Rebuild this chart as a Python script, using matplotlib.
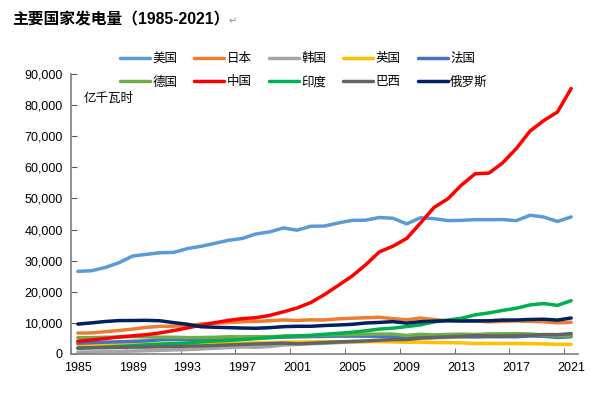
import numpy as np
import matplotlib
matplotlib.use('Agg')
from matplotlib import pyplot as plt
from matplotlib.ticker import FuncFormatter, MultipleLocator

plt.rcParams['font.family'] = ['Liberation Sans', 'Noto Sans CJK SC', 'DejaVu Sans']

years = list(range(1985, 2022))

# 亿千瓦时
usa = [26570, 26760, 27810, 29350, 31490, 32030, 32550, 32660, 33880, 34630,
       35580, 36550, 37140, 38590, 39250, 40510, 39800, 41050, 41130, 42110,
       42940, 43010, 43880, 43630, 41820, 43790, 43490, 42880, 42960, 43190,
       43170, 43220, 42860, 44610, 44010, 42600, 44060]
japan = [6720, 6770, 7180, 7540, 8000, 8570, 8880, 8950, 9060, 9640,
         9900, 10100, 10370, 10470, 10690, 10950, 10760, 10990, 10930, 11300,
         11500, 11640, 11800, 11360, 11000, 11560, 11040, 10690, 10870, 10610,
         10340, 10500, 10610, 10510, 10350, 10030, 10200]
korea = [580, 650, 730, 850, 940, 1050, 1180, 1310, 1440, 1650,
         1850, 2050, 2250, 2150, 2400, 2900, 3100, 3290, 3450, 3670,
         3880, 4030, 4270, 4430, 4520, 4970, 5230, 5340, 5370, 5400,
         5470, 5610, 5760, 5940, 5890, 5760, 5990]
uk = [2980, 3010, 3010, 3060, 3130, 3200, 3230, 3210, 3230, 3260,
      3340, 3470, 3450, 3620, 3680, 3770, 3850, 3870, 3980, 3940,
      3980, 3970, 3960, 3890, 3760, 3820, 3680, 3640, 3580, 3380,
      3390, 3390, 3380, 3330, 3250, 3130, 3080]
france = [3450, 3630, 3800, 3920, 4070, 4210, 4550, 4630, 4720, 4770,
          4940, 5130, 5050, 5100, 5240, 5410, 5500, 5590, 5670, 5740,
          5760, 5740, 5700, 5740, 5360, 5660, 5620, 5640, 5740, 5620,
          5710, 5560, 5540, 5820, 5700, 5320, 5560]
germany = [5230, 5250, 5380, 5460, 5600, 5500, 5400, 5380, 5270, 5290,
           5370, 5550, 5520, 5570, 5560, 5770, 5860, 5870, 6090, 6170,
           6230, 6370, 6400, 6400, 5960, 6330, 6130, 6300, 6380, 6270,
           6470, 6500, 6540, 6430, 6090, 5740, 5880]
china = [4107, 4495, 4973, 5452, 5848, 6212, 6775, 7539, 8395, 9281,
         10070, 10813, 11356, 11670, 12393, 13556, 14808, 16540, 19106, 22033,
         25003, 28657, 32816, 34669, 37147, 42072, 47130, 49876, 54316, 57945,
         58146, 61425, 66044, 71661, 75034, 77791, 85343]
india = [1830, 2020, 2220, 2430, 2680, 2930, 3160, 3360, 3570, 3890,
         4180, 4360, 4640, 4950, 5310, 5620, 5800, 6010, 6340, 6650,
         6970, 7450, 8010, 8310, 8810, 9370, 10320, 10910, 11490, 12590,
         13210, 14010, 14710, 15790, 16220, 15630, 17140]
brazil = [1930, 2020, 2030, 2150, 2210, 2230, 2340, 2410, 2520, 2600,
          2750, 2910, 3070, 3210, 3320, 3490, 3280, 3460, 3650, 3870,
          4030, 4190, 4450, 4630, 4660, 5160, 5320, 5530, 5700, 5900,
          5810, 5790, 5890, 6010, 6260, 6210, 6560]
russia = [9620, 10000, 10450, 10740, 10770, 10820, 10680, 10080, 9570, 8760,
          8600, 8470, 8340, 8270, 8460, 8780, 8910, 8910, 9160, 9320,
          9530, 9960, 10150, 10400, 9920, 10380, 10550, 10690, 10590, 10640,
          10680, 10910, 10920, 11100, 11180, 10900, 11570]

names = ['美国', '日本', '韩国', '英国', '法国', '德国', '中国', '印度', '巴西', '俄罗斯']
series = [usa, japan, korea, uk, france, germany, china, india, brazil, russia]
colors = ['#5B9BD5', '#ED7D31', '#A5A5A5', '#FFC000', '#4472C4',
          '#70AD47', '#FF0000', '#00B050', '#636363', '#002060']

fig = plt.figure(figsize=(6.07, 3.94), dpi=100)
ax = fig.add_axes([71/607, 40/394, 507/607, 280/394])

x = np.arange(len(years))
lines = []
for name, vals, c in zip(names, series, colors):
    ln, = ax.plot(x, vals, color=c, lw=2.5, label=name, solid_capstyle='round')
    lines.append(ln)

ax.set_xlim(-0.5, len(years) - 0.5)
ax.set_ylim(0, 90000)
ax.yaxis.set_major_locator(MultipleLocator(10000))
ax.yaxis.set_major_formatter(FuncFormatter(lambda v, p: f'{int(v):,}'))

lab_idx = list(range(0, len(years), 4))
ax.set_xticks(lab_idx)
ax.set_xticklabels([str(years[i]) for i in lab_idx])
ax.tick_params(axis='x', which='major', length=0, pad=6, labelsize=9)
ax.set_xticks(np.arange(-0.5, len(years), 4), minor=True)
ax.tick_params(axis='x', which='minor', direction='in', length=4, color='#595959')
ax.tick_params(axis='y', direction='in', length=4, color='#595959', labelsize=9, pad=6)

for s in ['top', 'right']:
    ax.spines[s].set_visible(False)
for s in ['left', 'bottom']:
    ax.spines[s].set_color('#7F7F7F')
    ax.spines[s].set_linewidth(1.2)

ax.text((84 - 71)/507, 1 - 25/280, '亿千瓦时', transform=ax.transAxes, fontsize=9,
        ha='left', va='center')

# legend fills column by column, so interleave the two rows
order = [0, 5, 1, 6, 2, 7, 3, 8, 4, 9]
fig.legend(handles=[lines[i] for i in order], labels=[names[i] for i in order],
           ncol=5, frameon=False, fontsize=9,
           loc='upper left', bbox_to_anchor=(120/607, 1 - 53/394),
           borderpad=0, borderaxespad=0, handlelength=2.4, handletextpad=0.2,
           columnspacing=1.35, labelspacing=0.9)

fig.text(12/607, 1 - 20/394, '主要国家发电量（1985-2021）', fontsize=11.3,
         fontweight='bold', ha='left', va='center')
fig.text(229/607, 1 - 21/394, '↵', fontsize=7, color='#8c8c8c',
         ha='left', va='center', family=['DejaVu Sans'])

fig.savefig('out.png', dpi=100)
